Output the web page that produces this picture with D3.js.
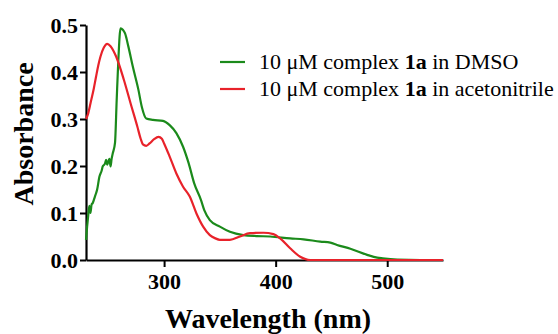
<!DOCTYPE html>
<html><head><meta charset="utf-8">
<script src="https://cdn.jsdelivr.net/npm/d3@7"></script>
</head><body style="margin:0">
<svg id="c" width="558" height="334"></svg>
<script>
// Data
const dmsoWavelength = [230,231,232,233,234,235,236,238,239,240,242,244,245,247,248,249,251,252,253,254,256,257.5,259,261,263,265,268,272,277,280,284,290,299,305,311,317,322,327,333,336,341,350,359,371,383,395,413,425,440,449,455,467,482,491,496,509,530,550];
const dmsoAbs = [0.043,0.071,0.095,0.115,0.100,0.118,0.121,0.135,0.142,0.150,0.177,0.190,0.199,0.205,0.213,0.203,0.215,0.199,0.216,0.227,0.249,0.34,0.426,0.493,0.490,0.482,0.454,0.411,0.362,0.326,0.301,0.298,0.296,0.287,0.270,0.241,0.206,0.163,0.128,0.106,0.085,0.071,0.060,0.053,0.051,0.050,0.046,0.044,0.039,0.037,0.032,0.024,0.011,0.005,0.0035,0.001,0.0,0.0];
const mecnWavelength = [230,232,234,237,239,241,243,246,249,252,257,264,270,276,279,281,284,287,291,295,298,300,305,311,317,323,329,335,341,346,350,359,368,377,389,398,404,413,422,431,450,500,550];
const mecnAbs = [0.300,0.312,0.333,0.365,0.390,0.414,0.433,0.452,0.460,0.455,0.433,0.383,0.333,0.284,0.258,0.246,0.243,0.248,0.257,0.262,0.258,0.248,0.220,0.184,0.156,0.135,0.099,0.071,0.053,0.046,0.043,0.043,0.050,0.057,0.058,0.055,0.046,0.025,0.007,0.0,0.0,0.0,0.0];
const xTicks = [300,400,500];
const yTicks = [0.0,0.1,0.2,0.3,0.4,0.5];
const seriesNames = ["DMSO","acetonitrile"];

const svg = d3.select("#c");
const x = d3.scaleLinear().domain([230,550]).range([86,443]);
const y = d3.scaleLinear().domain([0,0.5]).range([260,25]);
const SERIF = '"Liberation Serif"';

// axes
const xAxis = svg.append("g").attr("transform","translate(0,260)")
  .call(d3.axisBottom(x).tickValues(xTicks).tickFormat(d3.format("d")).tickSize(7).tickPadding(6).tickSizeOuter(0));
const yAxis = svg.append("g").attr("transform","translate(86,0)")
  .call(d3.axisLeft(y).tickValues(yTicks).tickFormat(d3.format(".1f")).tickSize(6).tickPadding(2).tickSizeOuter(0));
[xAxis,yAxis].forEach(g=>{
  g.select(".domain").attr("stroke","#000").attr("stroke-width",2.2);
  g.selectAll(".tick line").attr("stroke","#000").attr("stroke-width",2);
  g.selectAll("text").attr("fill","#000").attr("font-weight","bold").attr("font-size",22)
    .style("font-family",SERIF);
});
xAxis.selectAll("text").attr("dy","0.71em");
yAxis.selectAll("text").attr("dy","0.34em");

// lines
const line = d3.line().x(d=>x(d[0])).y(d=>y(d[1])).curve(d3.curveMonotoneX);
const colors = {"DMSO":"#1b8a1b","acetonitrile":"#e8222a"};
svg.append("path").datum(d3.zip(dmsoWavelength,dmsoAbs)).attr("d",line)
  .attr("fill","none").attr("stroke",colors.DMSO).attr("stroke-width",2.2).attr("stroke-linejoin","round");
svg.append("path").datum(d3.zip(mecnWavelength,mecnAbs)).attr("d",line)
  .attr("fill","none").attr("stroke",colors.acetonitrile).attr("stroke-width",2.2).attr("stroke-linejoin","round");

// axis titles
svg.append("text").attr("x",268).attr("y",328).attr("text-anchor","middle")
  .style("font-family",SERIF).attr("font-weight","bold").attr("font-size",28)
  .text("Wavelength (nm)");
svg.append("text").attr("transform","translate(33,134) rotate(-90)").attr("text-anchor","middle")
  .style("font-family",SERIF).attr("font-weight","bold").attr("font-size",28)
  .text("Absorbance");

// legend
const legY = [62,89];
seriesNames.forEach((s,i)=>{
  svg.append("line").attr("x1",220).attr("x2",245).attr("y1",legY[i]).attr("y2",legY[i])
    .attr("stroke",colors[s]).attr("stroke-width",2.2);
  const t = svg.append("text").attr("x",259).attr("y",legY[i]+7)
    .style("font-family",SERIF).attr("font-size",22);
  t.append("tspan").text("10 \u03bcM complex ");
  t.append("tspan").attr("font-weight","bold").text("1a");
  t.append("tspan").text(" in "+s);
});
</script>
</body></html>
